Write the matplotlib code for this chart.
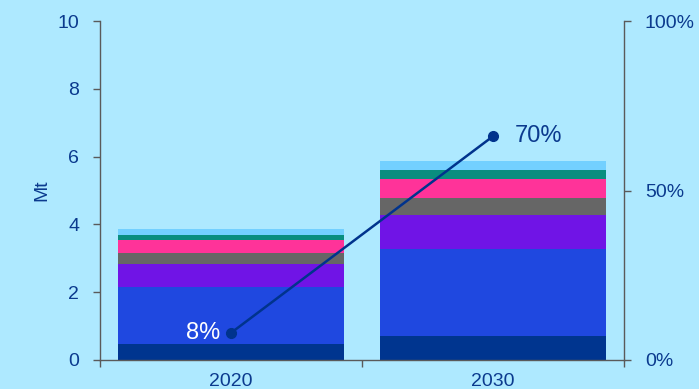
import numpy as np
import matplotlib.pyplot as plt

plt.rcParams['font.family'] = ['Liberation Sans', 'DejaVu Sans']

# data
years = ['2020', '2030']
dark_navy = [0.47, 0.71]
blue = [1.68, 2.56]
purple = [0.68, 1.01]
grey = [0.33, 0.50]
pink = [0.38, 0.56]
teal = [0.15, 0.27]
light_blue = [0.17, 0.27]
share_pos = [8, 66]          # where the markers sit on the right axis
share_labels = ['8%', '70%']

series = [dark_navy, blue, purple, grey, pink, teal, light_blue]
colors = ['#00358F', '#1F48E0', '#7014E6', '#666666', '#FF3399', '#098E7F', '#73D0FF']

bg = '#AEE9FF'
txt = '#0B3A8E'
spine_c = '#5A5A5A'

fig = plt.figure(figsize=(6.99, 3.89), dpi=100, facecolor=bg)
ax = fig.add_axes([100/699, 1-360/389, 524/699, 339/389])
ax.set_facecolor(bg)

x = np.arange(len(years))
bottom = np.zeros(len(years))
for vals, c in zip(series, colors):
    ax.bar(x, vals, width=0.86, bottom=bottom, color=c, zorder=2)
    bottom += np.array(vals)

ax.set_xlim(-0.5, 1.5)
ax.set_ylim(0, 10)
ax.set_yticks([0, 2, 4, 6, 8, 10])
ax.set_ylabel('Mt', color=txt, fontsize=14, labelpad=5)

# boundary ticks on x, category labels without marks
ax.set_xticks([-0.5, 0.5, 1.5])
ax.set_xticklabels([])
ax.set_xticks(x, minor=True)
ax.set_xticklabels(years, minor=True)
ax.tick_params(axis='x', which='minor', length=0, pad=9, labelsize=14, labelcolor=txt)
ax.tick_params(axis='x', which='major', length=5, width=1, color=spine_c)
ax.tick_params(axis='y', length=5, width=1, color=spine_c, pad=10, labelsize=14, labelcolor=txt)

for s in ['left', 'bottom']:
    ax.spines[s].set_color(spine_c)
    ax.spines[s].set_linewidth(1)
ax.spines['top'].set_visible(False)
ax.spines['right'].set_visible(False)

ax2 = ax.twinx()
ax2.set_ylim(0, 100)
ax2.set_yticks([0, 50, 100])
ax2.set_yticklabels(['0%', '50%', '100%'])
ax2.tick_params(axis='y', length=5, width=1, color=spine_c, pad=10, labelsize=14, labelcolor=txt)
ax2.spines['right'].set_color(spine_c)
ax2.spines['right'].set_linewidth(1)
for s in ['left', 'top', 'bottom']:
    ax2.spines[s].set_visible(False)

ax2.plot(x, share_pos, color='#00338D', lw=1.8, marker='o', markersize=7, zorder=5)
ax2.annotate(share_labels[0], (x[0], share_pos[0]), xytext=(-8, 0), textcoords='offset points',
             ha='right', va='center', color='white', fontsize=17)
ax2.annotate(share_labels[1], (x[1], share_pos[1]), xytext=(16, 0), textcoords='offset points',
             ha='left', va='center', color=txt, fontsize=17)

fig.savefig('out.png', dpi=100, facecolor=bg)
